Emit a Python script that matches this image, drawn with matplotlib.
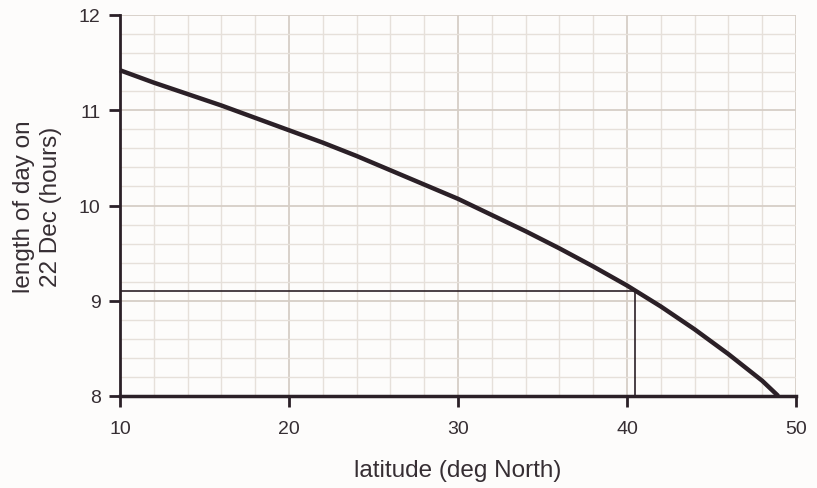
import matplotlib
matplotlib.use("Agg")
import matplotlib.pyplot as plt
from matplotlib.ticker import MultipleLocator

latitude = [10, 12, 14, 16, 18, 20, 22, 24, 26, 28, 30, 32, 34, 36, 38, 40, 42, 44, 46, 48, 48.95]
day_length = [11.42, 11.29, 11.17, 11.05, 10.92, 10.79, 10.66, 10.52, 10.37, 10.22, 10.07,
              9.90, 9.73, 9.55, 9.36, 9.16, 8.94, 8.70, 8.44, 8.16, 8.0]
ref_lat = 40.45
ref_len = 9.1
x_ticks = [10, 20, 30, 40, 50]
y_ticks = [8, 9, 10, 11, 12]

plt.rcParams['font.family'] = ['Liberation Sans', 'DejaVu Sans']
dark = '#2b2027'
text_col = '#362e33'
bg = '#fdfcfb'

fig = plt.figure(figsize=(8.17, 4.89), dpi=100, facecolor=bg)
ax = fig.add_axes([120/817, 1-397/489, (796-120)/817, (397-16)/489], facecolor=bg)

ax.set_xlim(10, 50)
ax.set_ylim(8, 12)
ax.xaxis.set_minor_locator(MultipleLocator(2))
ax.yaxis.set_minor_locator(MultipleLocator(0.2))
ax.set_xticks(x_ticks)
ax.set_yticks(y_ticks)
ax.grid(which='minor', color='#e6e0da', linewidth=1.0)
ax.grid(which='major', color='#d6cec6', linewidth=1.3)
ax.set_axisbelow(True)

for s in ['top', 'right']:
    ax.spines[s].set_visible(False)
ax.spines['left'].set_color(dark)
ax.spines['left'].set_linewidth(2)
ax.spines['bottom'].set_color(dark)
ax.spines['bottom'].set_linewidth(2.5)

ax.tick_params(which='minor', length=0)
ax.tick_params(which='major', length=8, width=2, color=dark, labelcolor=text_col, labelsize=14, pad=6)
ax.tick_params(axis='x', pad=9)

ax.plot([10, ref_lat], [ref_len, ref_len], color=dark, linewidth=1.2, zorder=3)
ax.plot([ref_lat, ref_lat], [8, ref_len], color=dark, linewidth=1.2, zorder=3)
ax.plot(latitude, day_length, color=dark, linewidth=3.2, solid_capstyle='butt', zorder=4, clip_on=False)

ax.set_xlabel('latitude (deg North)', fontsize=17.5, color=text_col, labelpad=16)
ax.set_ylabel('length of day on\n22 Dec (hours)', fontsize=17.5, color=text_col, labelpad=12, linespacing=1.3)

fig.savefig('out.png', dpi=100, facecolor=bg)
